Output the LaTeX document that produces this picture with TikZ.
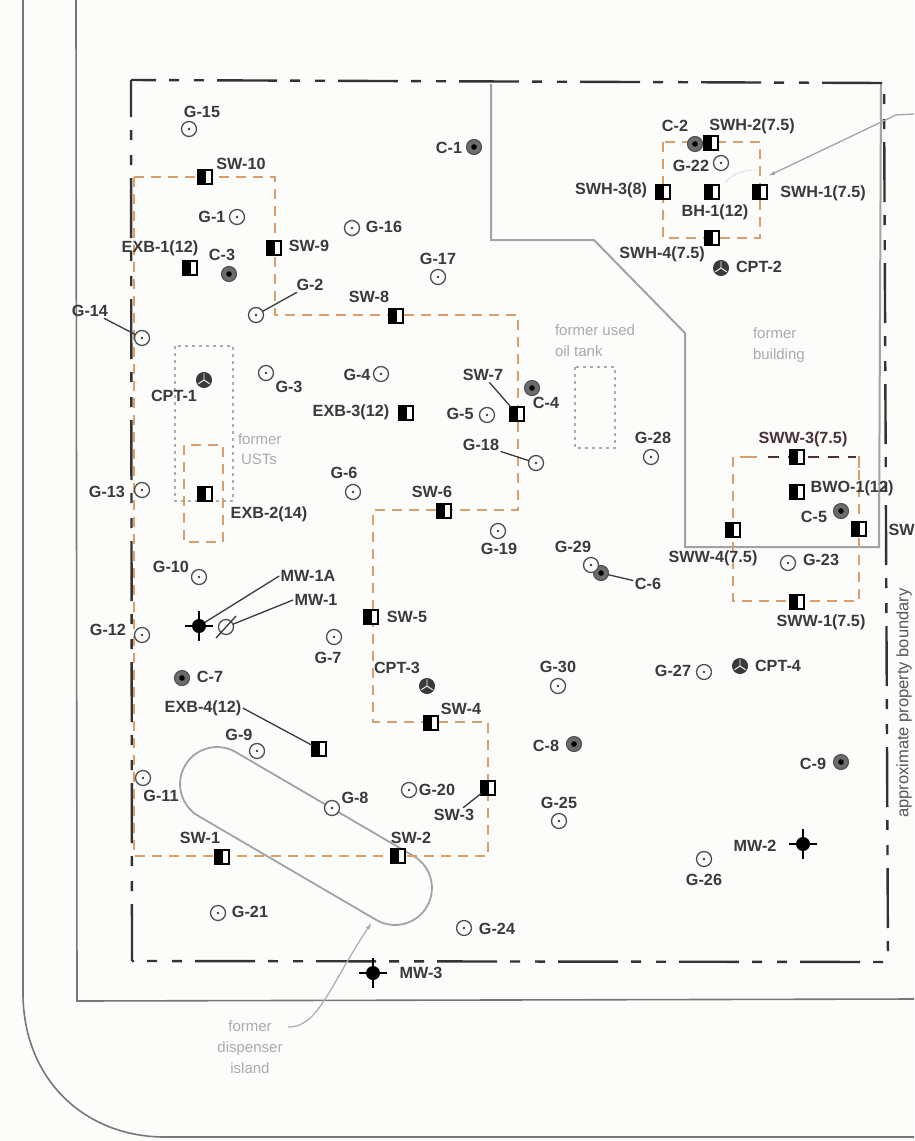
\documentclass[tikz,border=0pt]{standalone}
\usepackage{fontspec}
\setmainfont{Liberation Sans}
\usetikzlibrary{shapes.misc,arrows.meta}
\definecolor{bgc}{HTML}{FCFCFB}
\definecolor{ink}{HTML}{3A3A3A}
\definecolor{ringc}{HTML}{505050}
\definecolor{roadc}{HTML}{777777}
\definecolor{bldc}{HTML}{A3A3A3}
\definecolor{faint}{HTML}{ABABAB}
\definecolor{exc}{HTML}{DB9F6E}
\definecolor{wwc}{HTML}{4A3238}
\definecolor{bdc}{HTML}{333333}
\tikzset{
  every node/.style={inner sep=0pt,outer sep=0pt},
  lab/.style={text=ink,font=\fontsize{16.2}{16}\selectfont\bfseries,inner sep=1.5pt},
  note/.style={text=faint,font=\fontsize{15}{21}\selectfont,align=left},
  road/.style={draw=roadc,line width=1.6pt},
  bound/.style={draw=bdc,line width=2.4pt,dash pattern=on 60pt off 13pt on 10pt off 15pt on 10pt off 13pt},
  bld/.style={draw=bldc,line width=2pt,line join=miter},
  excav/.style={draw=exc,line width=2.2pt,dash pattern=on 10pt off 7pt},
  dott/.style={draw=faint,line width=1.6pt,dash pattern=on 3pt off 4pt},
  lead/.style={draw=ink,line width=1.3pt},
  gw/.style={circle,draw=ringc,fill=bgc,line width=1.3pt,minimum size=15pt,
    path picture={\fill[ink] (path picture bounding box.center) circle (1.4pt);}},
  cw/.style={circle,draw=ringc,fill=gray!85!black,line width=1.1pt,minimum size=15pt,
    path picture={\fill[black] (path picture bounding box.center) circle (2.8pt);}},
  cpt/.style={circle,draw=ink,fill=ink,line width=1pt,minimum size=15pt,
    path picture={\draw[white,line width=.9pt] (path picture bounding box.center) -- +(0,-7) (path picture bounding box.center) -- +(6,4) (path picture bounding box.center) -- +(-6,4);}},
  sb/.style={rectangle,draw=black,fill=bgc,line width=1.1pt,minimum width=14pt,minimum height=14pt,
    path picture={\fill[black] (path picture bounding box.north west) rectangle ([xshift=8pt]path picture bounding box.south west);}},
  mw/.style={circle,fill=black,minimum size=14pt},
  mwo/.style={circle,draw=ringc,fill=bgc,line width=1.3pt,minimum size=15pt},
  cross/.style={draw=black,line width=1.5pt},
  isl/.style={rounded rectangle,draw=bldc,line width=1.8pt,minimum width=280pt,minimum height=74pt,rotate=-30.3},
}
\newcommand{\mk}[4]{\node[#1] (#2) at (#3,#4) {};}
\newcommand{\lb}[4]{\node[lab] (#1) at (#2,#3) {#4};}
\begin{document}
\begin{tikzpicture}[x=1pt,y=-1pt]
\useasboundingbox (0,0) rectangle (914,1141);
\fill[bgc] (0,0) rectangle (914,1141);
% roads
\coordinate (r1a) at (23,0); \coordinate (r1b) at (23,995); \coordinate (r1c) at (165,1137); \coordinate (r1d) at (914,1137);
\draw[road] (r1a) -- (r1b) .. controls (24,1080) and (85,1137) .. (r1c) -- (r1d);
\coordinate (r2a) at (76,0); \coordinate (r2b) at (77,1001); \coordinate (r2c) at (914,999);
\draw[road] (r2a) -- (r2b) -- (r2c);
% former building
\draw[bld] (491,84) -- (491,240) -- (594,240) -- (685,333) -- (685,547) -- (879,547) -- (881,84);
% island
\node[isl] (island) at (306,836) {};
% dotted areas
\draw[dott] (175,346) rectangle (233,501);
\draw[dott] (575,367) rectangle (615,448);
% property boundary
\coordinate (pnw) at (131,80); \coordinate (pne) at (884,83); \coordinate (pse) at (888,962); \coordinate (psw) at (132,961);
\draw[bound,dash phase=35pt] (pnw) -- (pne);
\draw[bound,dash phase=62pt] (pne) -- (pse);
\draw[bound,dash phase=58pt] (psw) -- (pse);
\draw[bound,dash phase=23pt] (pnw) -- (psw);
% excavation limits
\draw[excav] (134,177) -- (275,177) -- (275,315) -- (518,315) -- (518,510) -- (373,510) -- (373,722) -- (488,722) -- (488,856) -- (134,856) -- cycle;
\draw[excav] (184,445) rectangle (223,542);
\draw[excav] (663,142) rectangle (760,238);
\draw[excav] (750,457) -- (733,457) -- (733,601) -- (859,601) -- (859,470);
\draw[draw=exc,line width=2.2pt] (750,457) -- (757,457) (859,456) -- (859,468);
\draw[draw=wwc,line width=2.2pt,dash pattern=on 11pt off 9pt] (768,457) -- (856,457);
% thin callout
\coordinate (ca) at (768,176); \coordinate (cb) at (896,115); \coordinate (cc) at (914,114);
\draw[draw=bldc,line width=1.3pt,{Latex[length=7pt,width=4pt]}-] (ca) -- (cb) -- (cc);
\draw[draw=faint!60,line width=1pt,densely dotted] (726,182) .. controls (735,172) and (742,170) .. (762,170);
% wells
\mk{gw}{g15}{189}{129}
\mk{sb}{sw10}{205}{177}
\mk{cw}{c1}{474}{147}
\mk{cw}{c2}{695}{144}
\mk{sb}{swh2}{711}{143}
\mk{gw}{g22}{721}{163}
\mk{sb}{swh3}{663}{192}
\mk{sb}{bh1}{712}{192}
\mk{sb}{swh1}{760}{192}
\mk{sb}{swh4}{712}{238}
\mk{cpt}{cpt2}{721}{268}
\mk{gw}{g1}{237}{217}
\mk{gw}{g16}{352}{228}
\mk{sb}{sw9}{274}{248}
\mk{sb}{exb1}{190}{268}
\mk{cw}{c3}{229}{274}
\mk{gw}{g17}{438}{277}
\mk{gw}{g2}{256}{315}
\mk{sb}{sw8}{396}{316}
\mk{gw}{g14}{142}{338}
\mk{cpt}{cpt1}{204}{380}
\mk{gw}{g3}{266}{373}
\mk{gw}{g4}{381}{374}
\mk{sb}{exb3}{406}{413}
\mk{gw}{g5}{487}{415}
\mk{sb}{sw7}{517}{414}
\mk{cw}{c4}{532}{388}
\mk{gw}{g18}{536}{463}
\mk{gw}{g28}{651}{457}
\mk{sb}{sww3}{797}{457}
\mk{sb}{bwo1}{797}{492}
\mk{cw}{c5}{841}{511}
\mk{sb}{sww2}{859}{529}
\mk{sb}{sww4}{733}{530}
\mk{gw}{g23}{788}{563}
\mk{sb}{sww1}{797}{602}
\mk{cw}{c6}{601}{573}
\mk{gw}{g29}{591}{565}
\mk{gw}{g19}{498}{531}
\mk{gw}{g30}{558}{686}
\mk{gw}{g27}{704}{672}
\mk{cpt}{cpt4}{740}{666}
\mk{cw}{c8}{574}{744}
\mk{cw}{c9}{841}{762}
\mk{gw}{g25}{559}{821}
\mk{sb}{sw3}{488}{788}
\mk{gw}{g13}{142}{490}
\mk{sb}{exb2}{205}{494}
\mk{gw}{g6}{353}{492}
\mk{sb}{sw6}{444}{511}
\mk{gw}{g10}{199}{577}
\mk{mwo}{mwone}{226}{627}
\mk{mw}{mwonea}{199}{626}
\mk{gw}{g12}{142}{635}
\mk{sb}{sw5}{371}{617}
\mk{gw}{g7}{334}{637}
\mk{cw}{c7}{182}{678}
\mk{cpt}{cpt3}{427}{686}
\mk{sb}{sw4}{431}{723}
\mk{sb}{exb4}{319}{749}
\mk{gw}{g9}{257}{751}
\mk{gw}{g11}{143}{778}
\mk{gw}{g8}{332}{808}
\mk{gw}{g20}{409}{790}
\mk{sb}{sw1}{222}{857}
\mk{sb}{sw2}{398}{856}
\mk{gw}{g21}{218}{913}
\mk{gw}{g24}{464}{928}
\mk{mw}{mwthree}{373}{973}
\mk{mw}{mwtwo}{803}{844}
\mk{gw}{g26}{704}{859}
% crosshairs and slash
\draw[cross] (mwonea) ++(-14,0) -- ++(28,0) (mwonea) ++(0,-15) -- ++(0,30);
\draw[cross] (mwthree) ++(-14,0) -- ++(28,0) (mwthree) ++(0,-15) -- ++(0,30);
\draw[cross] (mwtwo) ++(-14,0) -- ++(28,0) (mwtwo) ++(0,-15) -- ++(0,30);
\draw[lead] (mwone) ++(-10,11) -- ++(20,-22);
% labels
\lb{lg15}{202}{112}{G-15}
\lb{lsw10}{241}{164}{SW-10}
\lb{lc1}{449}{148}{C-1}
\lb{lc2}{675}{126}{C-2}
\lb{lswh2}{752}{126}{SWH-2(7.5)}
\lb{lg22}{691}{166}{G-22}
\lb{lswh3}{611}{190}{SWH-3(8)}
\lb{lbh1}{715}{212}{BH-1(12)}
\lb{lswh1}{823}{193}{SWH-1(7.5)}
\lb{lswh4}{662}{254}{SWH-4(7.5)}
\lb{lcpt2}{759}{267}{CPT-2}
\lb{lg1}{212}{217}{G-1}
\lb{lg16}{384}{227}{G-16}
\lb{lsw9}{309}{246}{SW-9}
\lb{lexb1}{160}{248}{EXB-1(12)}
\lb{lc3}{222}{255}{C-3}
\lb{lg17}{438}{259}{G-17}
\lb{lg2}{310}{285}{G-2}
\lb{lsw8}{369}{297}{SW-8}
\lb{lg14}{90}{311}{G-14}
\lb{lcpt1}{174}{396}{CPT-1}
\lb{lg3}{289}{387}{G-3}
\lb{lg4}{357}{375}{G-4}
\lb{lexb3}{351}{412}{EXB-3(12)}
\lb{lg5}{460}{414}{G-5}
\lb{lsw7}{483}{375}{SW-7}
\lb{lc4}{546}{403}{C-4}
\lb{lg18}{481}{445}{G-18}
\lb{lg28}{653}{438}{G-28}
\node[lab,text=wwc] (lsww3) at (803,439) {SWW-3(7.5)};
\lb{lbwo1}{852}{488}{BWO-1(12)}
\lb{lc5}{814}{517}{C-5}
\node[lab,anchor=west] (lsww2) at (887,530) {SW};
\lb{lsww4}{713}{558}{SWW-4(7.5)}
\lb{lg23}{821}{560}{G-23}
\lb{lsww1}{821}{622}{SWW-1(7.5)}
\lb{lg29}{573}{547}{G-29}
\lb{lc6}{648}{584}{C-6}
\lb{lg19}{499}{549}{G-19}
\lb{lg30}{558}{667}{G-30}
\lb{lg27}{673}{671}{G-27}
\lb{lcpt4}{778}{666}{CPT-4}
\lb{lc8}{546}{746}{C-8}
\lb{lc9}{813}{764}{C-9}
\lb{lg25}{559}{803}{G-25}
\lb{lsw3}{454}{815}{SW-3}
\lb{lg13}{107}{492}{G-13}
\lb{lexb2}{269}{514}{EXB-2(14)}
\lb{lg6}{344}{473}{G-6}
\lb{lsw6}{432}{492}{SW-6}
\lb{lg10}{171}{567}{G-10}
\lb{lmwonea}{308}{576}{MW-1A}
\lb{lmwone}{316}{600}{MW-1}
\lb{lg12}{108}{630}{G-12}
\lb{lsw5}{407}{617}{SW-5}
\lb{lg7}{328}{658}{G-7}
\lb{lc7}{210}{677}{C-7}
\lb{lcpt3}{397}{668}{CPT-3}
\lb{lsw4}{461}{709}{SW-4}
\lb{lexb4}{203}{708}{EXB-4(12)}
\lb{lg9}{239}{735}{G-9}
\lb{lg11}{161}{796}{G-11}
\lb{lg8}{355}{798}{G-8}
\lb{lg20}{437}{790}{G-20}
\lb{lsw1}{200}{838}{SW-1}
\lb{lsw2}{411}{838}{SW-2}
\lb{lg21}{250}{912}{G-21}
\lb{lg24}{497}{929}{G-24}
\lb{lmwthree}{421}{973}{MW-3}
\lb{lmwtwo}{755}{846}{MW-2}
\lb{lg26}{704}{880}{G-26}
% leaders
\draw[lead] (lg2) -- (g2);
\draw[lead] (lg14) -- (g14);
\draw[lead] (lsw7) -- (sw7);
\draw[lead] (lg18) -- (g18);
\draw[lead] (lc6) -- (c6);
\draw[lead] (lmwonea.west) -- (mwonea);
\draw[lead] (lmwone.west) -- (mwone);
\draw[lead] (lexb4.east) -- (exb4);
\draw[lead] (lsw3) -- (sw3);
% notes
\node[note,anchor=west] (nust) at (238,449) {former\\[-1pt]\hspace*{3pt}USTs};
\node[note,anchor=west] (noil) at (555,341) {former used\\oil tank};
\node[note,anchor=west] (nbld) at (753,345) {former\\building};
\node[note,align=center] (ndisp) at (250,1047) {former\\dispenser\\island};
\coordinate (dt) at (372,922);
\coordinate (ds) at (288,1027);
\draw[draw=faint,line width=1.2pt,-{Latex[length=8pt,width=4pt]}] (ds) .. controls (318,1028) and (330,985) .. (dt);
\node[rotate=90,text=ink!85,font=\fontsize{16.5}{16}\selectfont] (lpb) at (904,703) {approximate property boundary};
\end{tikzpicture}
\end{document}
